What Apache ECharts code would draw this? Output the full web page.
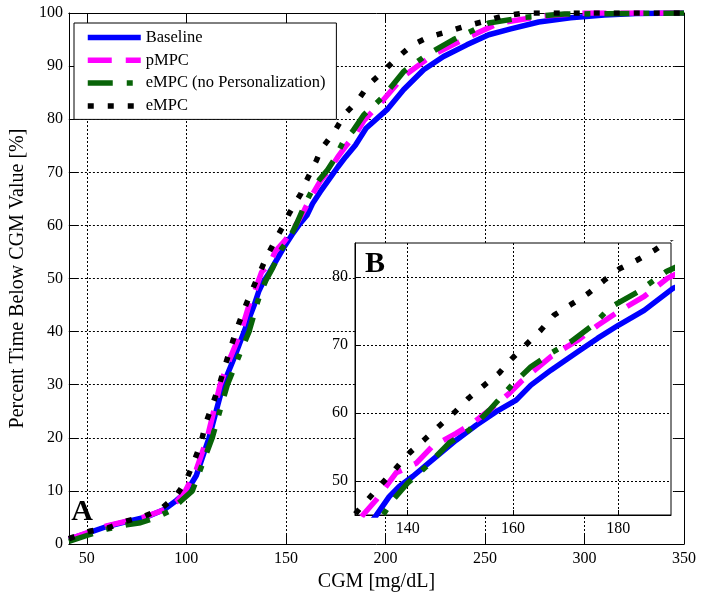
<!DOCTYPE html>
<html><head><meta charset="utf-8">
<script src="https://cdn.jsdelivr.net/npm/echarts@6/dist/echarts.min.js"></script>
<style>html,body{margin:0;padding:0;background:#fff}#c{width:704px;height:602px}</style>
</head><body><div id="c"></div>
<script>
// ---- data ----
const seriesNames = ['Baseline', 'pMPC', 'eMPC (no Personalization)', 'eMPC'];

const baselineX = [41, 50, 60, 70, 80, 88.9, 95, 100, 105, 111.4, 118.5, 124.3, 129, 134, 136.5, 138.4, 141, 144.7, 149.2, 153, 156.8, 160.6, 163.4, 167.2, 172.3, 176.1, 180, 184.9, 190.3, 200.8, 209.2, 219.2, 229.2, 240.9, 251.9, 263, 277, 293, 310, 326, 350];
const baselineY = [0.9, 2.0, 3.3, 4.2, 5.1, 6.5, 8.2, 9.8, 12.9, 20, 30, 35.3, 40, 44.9, 47.7, 49.2, 50.7, 53.1, 56, 58.2, 60.2, 61.9, 64.1, 66.3, 69, 71, 72.9, 75.1, 78.3, 81.8, 85.6, 89.3, 91.8, 94, 95.9, 97, 98.3, 99.1, 99.6, 99.9, 100];

const pmpcX = [41, 50, 60, 70, 80, 90, 95, 99.5, 105, 110.5, 117, 122, 127.5, 131.5, 134, 137.8, 141.6, 144.7, 149.2, 152.3, 155.5, 159.3, 161.5, 167.2, 172.3, 176.1, 180, 185, 189.3, 197.5, 209.2, 224.2, 239.2, 256.9, 278.7, 300, 350];
const pmpcY = [0.9, 2.1, 3.4, 4.3, 5.2, 6.6, 7.9, 10, 14, 20, 30, 35, 40, 45, 47.2, 51.2, 52.6, 55.1, 57, 58.5, 60.4, 62.9, 64.6, 68.3, 70.7, 72.9, 74.9, 77.2, 79.8, 83, 88.1, 92.2, 95, 98.1, 99.4, 100, 100];

const empcNoPX = [41, 50, 60, 70, 77, 85, 92, 97, 103, 108, 113, 120.6, 126, 131.5, 135.3, 137.2, 140, 143.5, 147.9, 151.7, 155.5, 159.9, 163.4, 167.2, 171, 174.8, 178.6, 183.7, 189.1, 199.1, 209.2, 220.8, 234.2, 251.9, 270, 290, 350];
const empcNoPY = [0.5, 1.6, 2.8, 3.6, 4.0, 5.0, 6.3, 8, 10, 15, 20, 30, 35, 40, 45, 47.2, 49.7, 52.1, 55.6, 57.5, 60.4, 64.2, 66.8, 68.8, 70.5, 72.7, 75.6, 77.8, 80.8, 84.3, 89, 92.1, 95, 98.1, 99.2, 99.8, 100];

const empcX = [41, 51.3, 60.4, 69.7, 78.8, 87.2, 94.7, 99.7, 103.9, 107.3, 109.8, 113.1, 116.4, 119.3, 122.3, 125.3, 130.2, 132.7, 135.3, 137.8, 140.3, 143.2, 146, 148.9, 151.6, 154.4, 157.4, 159.8, 165.3, 167.8, 171.1, 174.3, 177.3, 180.2, 183.6, 187, 191.6, 198.8, 205.8, 213.5, 222, 231.4, 240.1, 249.4, 258.6, 270, 350];
const empcY = [1.0, 2.4, 3.0, 4.3, 5.2, 6.6, 9, 11.8, 15.6, 19, 22.8, 26.2, 29.8, 33.4, 37, 40.5, 45.3, 47.5, 49.8, 51.9, 54.1, 56.1, 58.1, 60.1, 62.2, 64, 65.9, 68, 72.2, 74.4, 76, 77.6, 79.5, 81.2, 82.5, 84, 86.5, 89, 91.5, 94, 95.5, 96.5, 97.5, 98.4, 99.4, 100, 100];

const xTicksMain = [50, 100, 150, 200, 250, 300, 350];
const xTicksInset = [140, 160, 180];
const yTicksInset = [50, 60, 70, 80];

// ---- styling ----
const F = '"Liberation Serif", "DejaVu Serif", serif';
const colors = ['#0000ff', '#ff00ff', '#086408', '#000000'];
const dashes = ['solid', [24, 14], [25, 14, 6, 14], [6, 14]];
const xs = [baselineX, pmpcX, empcNoPX, empcX];
const ys = [baselineY, pmpcY, empcNoPY, empcY];
function zip(a, b) { return a.map((v, i) => [v, b[i]]); }

const gridDot = { color: '#000', width: 1, type: [2, 2] };
const blackLine = { show: true, onZero: false, lineStyle: { color: '#000', width: 1 } };

const series = [];
for (let k = 0; k < 4; k++) {
  const ls = { color: colors[k], width: 5.5, type: dashes[k], cap: 'butt', join: 'round' };
  series.push({ name: seriesNames[k], type: 'line', xAxisIndex: 0, yAxisIndex: 0, data: zip(xs[k], ys[k]),
    symbol: 'none', showSymbol: false, lineStyle: ls, z: 2 + k * 0.1, clip: true });
}
for (let k = 0; k < 4; k++) {
  const ls = { color: colors[k], width: 5.5, type: dashes[k], cap: 'butt', join: 'round' };
  series.push({ name: seriesNames[k], type: 'line', xAxisIndex: 2, yAxisIndex: 2, data: zip(xs[k], ys[k]),
    symbol: 'none', showSymbol: false, lineStyle: ls, z: 12 + k * 0.1, clip: true });
}

const option = {
  animation: false,
  backgroundColor: '#fff',
  grid: [
    { left: 65, top: 13, right: 20, bottom: 58, containLabel: false },
    { left: 355, top: 243, right: 33, bottom: 87, show: true, backgroundColor: '#fff', borderColor: '#000', borderWidth: 1, z: 5 }
  ],
  xAxis: [
    { gridIndex: 0, type: 'value', min: 41, max: 350, position: 'bottom',
      axisLine: blackLine,
      axisTick: { show: true, inside: true, length: 9, customValues: xTicksMain, lineStyle: { color: '#000' } },
      axisLabel: { customValues: xTicksMain, color: '#000', fontFamily: F, fontSize: 16, margin: 7 },
      splitLine: { show: true, lineStyle: gridDot },
      name: 'CGM [mg/dL]', nameLocation: 'middle', nameGap: 28,
      nameTextStyle: { color: '#000', fontFamily: F, fontSize: 20 } },
    { gridIndex: 0, type: 'value', min: 41, max: 350, position: 'top',
      axisLine: blackLine,
      axisTick: { show: true, inside: true, length: 9, customValues: xTicksMain, lineStyle: { color: '#000' } },
      axisLabel: { show: false }, splitLine: { show: false } },
    { gridIndex: 1, type: 'value', min: 130, max: 190, position: 'bottom', z: 6,
      axisLine: blackLine,
      axisTick: { show: true, inside: true, length: 5, customValues: xTicksInset, lineStyle: { color: '#000' } },
      axisLabel: { customValues: xTicksInset, color: '#000', fontFamily: F, fontSize: 16, margin: 6 },
      splitLine: { show: true, lineStyle: gridDot } }
  ],
  yAxis: [
    { gridIndex: 0, type: 'value', min: 0, max: 100, interval: 10, position: 'left',
      axisLine: blackLine,
      axisTick: { show: true, inside: true, length: 9, lineStyle: { color: '#000' } },
      axisLabel: { color: '#000', fontFamily: F, fontSize: 16, margin: 6 },
      splitLine: { show: true, lineStyle: gridDot },
      name: 'Percent Time Below CGM Value [%]', nameLocation: 'middle', nameGap: 40,
      nameTextStyle: { color: '#000', fontFamily: F, fontSize: 20 } },
    { gridIndex: 0, type: 'value', min: 0, max: 100, interval: 10, position: 'right',
      axisLine: blackLine,
      axisTick: { show: true, inside: true, length: 9, lineStyle: { color: '#000' } },
      axisLabel: { show: false }, splitLine: { show: false } },
    { gridIndex: 1, type: 'value', min: 45, max: 85, position: 'left', z: 6,
      axisLine: blackLine,
      axisTick: { show: true, inside: true, length: 5, customValues: yTicksInset, lineStyle: { color: '#000' } },
      axisLabel: { customValues: yTicksInset, color: '#000', fontFamily: F, fontSize: 16, margin: 7 },
      splitLine: { show: true, lineStyle: gridDot } }
  ],
  legend: {
    orient: 'vertical', left: 74, top: 23, padding: [6, 11, 5, 11],
    itemWidth: 53, itemHeight: 10, itemGap: 5.8, selectedMode: false,
    backgroundColor: '#fff', borderColor: '#000', borderWidth: 1, z: 8,
    textStyle: { fontFamily: F, fontSize: 16.5, color: '#000', lineHeight: 17 },
    data: seriesNames.map((n, k) => ({ name: n,
      itemStyle: { color: 'transparent', borderWidth: 0, opacity: 0 },
      lineStyle: { width: 5.5, color: colors[k], type: dashes[k], cap: 'butt', opacity: 1 } }))
  },
  graphic: [
    { type: 'text', z: 20, style: { x: 82, y: 512, text: 'A', align: 'center', verticalAlign: 'middle', font: 'bold 30px "Liberation Serif", serif', fill: '#000' } },
    { type: 'text', z: 20, style: { x: 375, y: 264, text: 'B', align: 'center', verticalAlign: 'middle', font: 'bold 30px "Liberation Serif", serif', fill: '#000' } }
  ],
  series: series
};
const chart = echarts.init(document.getElementById('c'), null, { renderer: 'canvas' });
chart.setOption(option);
</script>
</body></html>
